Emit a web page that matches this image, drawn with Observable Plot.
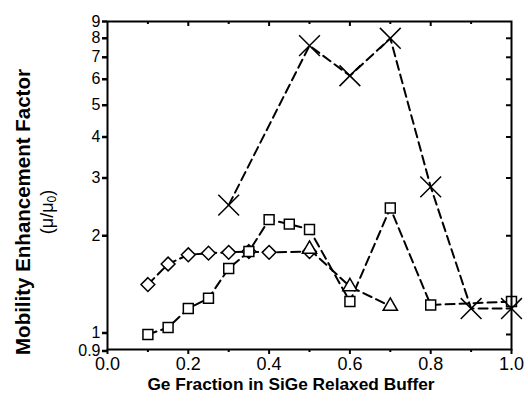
<!DOCTYPE html>
<html><head><meta charset="utf-8">
<script src="https://cdn.jsdelivr.net/npm/d3@7"></script>
<script src="https://cdn.jsdelivr.net/npm/@observablehq/plot@0.6"></script>
<style>body{margin:0;background:#fff}</style>
</head><body><div id="chart"></div>
<script>
const xMajor = [0, 0.2, 0.4, 0.6, 0.8, 1.0];
const xMinor = [0.1, 0.3, 0.5, 0.7, 0.9];
const yTicks = [0.9, 1, 2, 3, 4, 5, 6, 7, 8, 9];
const yTickLabels = ["0.9", "1", "2", "3", "4", "5", "6", "7", "8", "9"];

const diamondX = [0.1, 0.15, 0.2, 0.25, 0.3, 0.35, 0.4, 0.5];
const diamondY = [1.42, 1.64, 1.75, 1.77, 1.78, 1.79, 1.78, 1.79];
const squareX = [0.1, 0.15, 0.2, 0.25, 0.3, 0.35, 0.4, 0.45, 0.5, 0.6, 0.7, 0.8, 1.0];
const squareY = [1.0, 1.05, 1.20, 1.29, 1.59, 1.79, 2.24, 2.17, 2.09, 1.26, 2.43, 1.23, 1.26];
const triangleX = [0.5, 0.6, 0.7];
const triangleY = [1.82, 1.40, 1.22];
const crossX = [0.3, 0.5, 0.6, 0.7, 0.8, 0.9, 1.0];
const crossY = [2.48, 7.6, 6.15, 8.0, 2.82, 1.20, 1.20];

const toRows = (xs, ys) => xs.map((x, i) => ({x, y: ys[i]}));
const diamonds = toRows(diamondX, diamondY);
const squares = toRows(squareX, squareY);
const triangles = toRows(triangleX, triangleY);
const crosses = toRows(crossX, crossY);

const W = 528, H = 409, mL = 107, mR = 17, mT = 21, mB = 60;
const innerW = W - mL - mR, innerH = H - mT - mB;
const dash = "9,5";
const yLabel = d => yTickLabels[yTicks.indexOf(d)];

const chart = Plot.plot({
  width: W, height: H,
  marginLeft: mL, marginRight: mR, marginTop: mT, marginBottom: mB,
  style: {fontFamily: "'Liberation Sans', Arial, sans-serif", color: "black", background: "white"},
  x: {domain: [0, 1]},
  y: {type: "log", domain: [0.9, 9]},
  marks: [
    Plot.line(crosses, {x: "x", y: "y", stroke: "black", strokeWidth: 2, strokeDasharray: dash}),
    Plot.line(squares, {x: "x", y: "y", stroke: "black", strokeWidth: 2, strokeDasharray: dash}),
    Plot.line(diamonds, {x: "x", y: "y", stroke: "black", strokeWidth: 2, strokeDasharray: dash}),
    Plot.line(triangles, {x: "x", y: "y", stroke: "black", strokeWidth: 2, strokeDasharray: dash}),
    Plot.dot(diamonds, {x: "x", y: "y", symbol: "diamond2", r: 6.2, stroke: "black", fill: "white", strokeWidth: 1.5}),
    Plot.dot(squares, {x: "x", y: "y", symbol: "square2", r: 6.3, stroke: "black", fill: "white", strokeWidth: 1.5}),
    Plot.dot(triangles, {x: "x", y: "y", symbol: "triangle2", r: 6.8, stroke: "black", fill: "white", strokeWidth: 1.5}),
    Plot.dot(crosses, {x: "x", y: "y", symbol: "times", r: 9.5, stroke: "black", strokeWidth: 1.5}),
    Plot.frame({stroke: "black", strokeWidth: 2}),
    Plot.axisX({ticks: xMajor, tickFormat: d3.format(".1f"), tickSize: 5, tickPadding: 3, strokeWidth: 2, fontSize: 18, label: null}),
    Plot.axisX({ticks: xMinor, tickFormat: () => "", tickSize: 3, strokeWidth: 2, label: null}),
    Plot.tickX(xMajor.slice(1, -1), {x: d => d, insetBottom: innerH - 5, stroke: "black", strokeWidth: 2}),
    Plot.tickX(xMinor, {x: d => d, insetBottom: innerH - 3, stroke: "black", strokeWidth: 2}),
    Plot.axisY({ticks: yTicks.slice(2), tickFormat: yLabel, tickSize: 5, tickPadding: 2, strokeWidth: 2.5, fontSize: 16, label: null}),
    Plot.axisY({ticks: [yTicks[1]], tickFormat: yLabel, tickSize: 5, tickPadding: 2, strokeWidth: 2.5, fontSize: 16, dy: -1.5, label: null}),
    Plot.axisY({ticks: [yTicks[0]], tickFormat: yLabel, tickSize: 5, tickPadding: 2, strokeWidth: 2.5, fontSize: 16, dy: 1.5, label: null}),
    Plot.tickY(yTicks.slice(1, -1), {y: d => d, insetLeft: innerW - 5, stroke: "black", strokeWidth: 2})
  ]
});

const svg = d3.select(chart);
svg.append("text")
  .attr("transform", "translate(22,212) rotate(-90)")
  .attr("text-anchor", "middle").attr("dominant-baseline", "central")
  .attr("font-size", 20.5).attr("font-weight", "bold").attr("fill", "black")
  .text("Mobility Enhancement Factor");
const t2 = svg.append("text")
  .attr("transform", "translate(47,212) rotate(-90)")
  .attr("text-anchor", "middle").attr("dominant-baseline", "central")
  .attr("font-size", 18).attr("fill", "black");
t2.append("tspan").text("(\u03bc/\u03bc");
t2.append("tspan").attr("font-size", 12).attr("dy", 5).text("0");
t2.append("tspan").attr("dy", -5).text(")");
svg.append("text")
  .attr("x", 291).attr("y", 384)
  .attr("text-anchor", "middle").attr("dominant-baseline", "central")
  .attr("font-size", 17.3).attr("font-weight", "bold").attr("fill", "black")
  .text("Ge Fraction in SiGe Relaxed Buffer");

document.getElementById("chart").appendChild(chart);
</script>
</body></html>
